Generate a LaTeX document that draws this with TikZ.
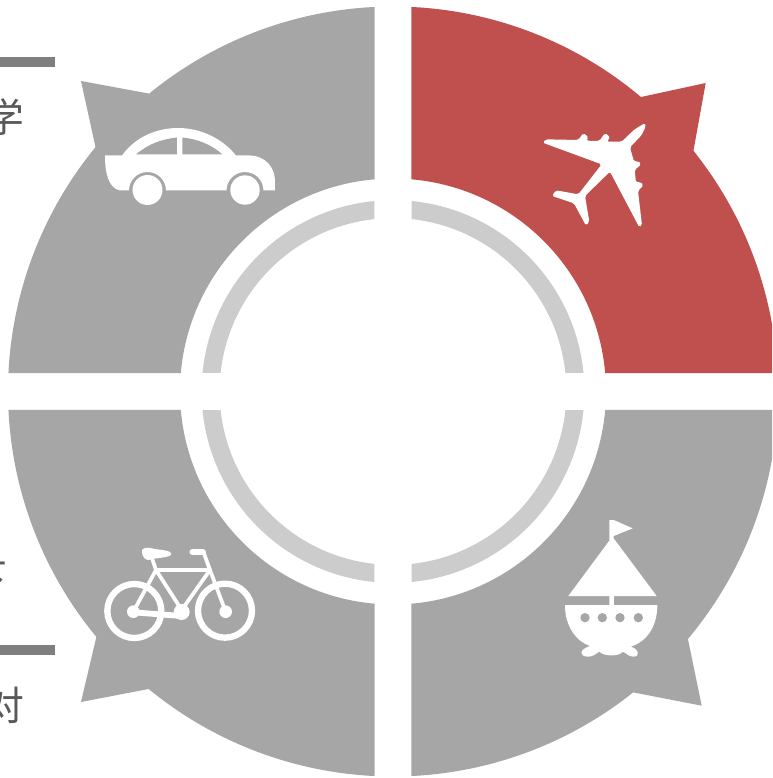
\documentclass[tikz,border=0pt]{standalone}
\usepackage{fontspec}
\newfontfamily\cjkfont{Noto Sans CJK SC}
\usetikzlibrary{positioning}
\definecolor{quadgray}{HTML}{A6A6A6}
\definecolor{quadred}{HTML}{C0504D}
\definecolor{ringgray}{HTML}{CCCCCC}
\definecolor{rulegray}{HTML}{7F7F7F}
\definecolor{textgray}{HTML}{595959}
\tikzset{
  quadrant/.style={draw=none},
  ringpart/.style={fill=ringgray},
  rulebar/.style={fill=rulegray},
  sidetext/.style={text=textgray,inner sep=0pt,font=\cjkfont\fontsize{34}{34}\selectfont},
  iconfill/.style={fill=white},
  iconhole/.style={fill=quadgray},
  bikeline/.style={draw=white,line width=3.2pt,line cap=round,line join=round},
}
\begin{document}
\begin{tikzpicture}[x=.03cm,y=.03cm]
    \useasboundingbox (-393,-386.5) rectangle (379,391.5);
    \clip (-393,-386.5) rectangle (379,391.5);
    % four sectors, each with its spike
    \foreach \col/\base/\sa/\tx/\ty/\sb in {quadred/0/38.7/312.7/308.5/49.9,quadgray/90/129.3/-312/310.5/140.6,quadgray/180/219.6/-312/-310.5/230.6,quadgray/270/308.6/308.7/-314.2/320}{
      \fill[quadrant,fill=\col] ({\base+2.75}:385) arc[start angle=\base+2.75,end angle=\sa,radius=385]
        -- (\tx,\ty) -- (\sb:385) arc[start angle=\sb,end angle=\base+87.25,radius=385]
        -- ({\base+85.02}:213) arc[start angle=\base+85.02,end angle=\base+4.98,radius=213] -- cycle;
      \fill[ringpart] ({\base+5.55}:191.4) arc[start angle=\base+5.55,end angle=\base+84.45,radius=191.4]
        -- ({\base+83.87}:173.4) arc[start angle=\base+83.87,end angle=\base+6.13,radius=173.4] -- cycle;
    }
    \begin{scope}[shift={(-393,391.5)},yscale=-1]
      % side rules and cut-off text
      \fill[rulebar] (-5,57) rectangle (55,67);
      \fill[rulebar] (-5,645) rectangle (55,655);
      \node[sidetext] (topchar) at (4,117) {学};
      \node[sidetext] (midchar) at (-13,579) {下};
      \node[sidetext] (lowchar) at (4,705) {对};
      % car
      \fill[iconfill] (105,155.5) -- (122,155.5) .. controls (136,136) and (158,128) .. (178,128)
        .. controls (200,128) and (222,138) .. (236,155.5) -- (250,155.5)
        .. controls (266,156) and (275,168) .. (275,181) -- (275,190.5) -- (263.5,190.5)
        arc[start angle=0,end angle=-180,radius=18.5] -- (166,190.5)
        arc[start angle=0,end angle=-180,radius=18.5] -- (120,190.5)
        .. controls (108,188) and (105,172) .. cycle;
      \fill[iconhole] (136,154.5) .. controls (148,144) and (162,139) .. (177,137.5) -- (177,154.5) -- cycle;
      \fill[iconhole] (182.5,137.5) .. controls (198,139) and (212,145) .. (222.5,154.5) -- (182.5,154.5) -- cycle;
      \fill[iconfill] (147.5,190) circle[radius=15];
      \fill[iconfill] (245,190) circle[radius=14.7];
      % plane
      \begin{scope}[shift={(500,60)},scale=1/3]
        \fill[iconfill,rounded corners=1.5pt] (436,189) -- (437,200) -- (425,225) -- (390,262) -- (402,305)
          -- (414,303) -- (424,313) -- (404,330) -- (408,368) -- (420,365) -- (431,376) -- (414,392)
          -- (426,496) -- (418,502) -- (330,335) -- (255,408) -- (268,485) -- (258,497) -- (222,430)
          -- (156,408) -- (168,391) -- (235,403) -- (305,313) -- (128,248) -- (138,238) -- (235,240)
          -- (250,219) -- (266,232) -- (258,242) -- (298,243) -- (315,219) -- (331,232) -- (320,245) -- (365,245)
          -- (405,207) -- cycle;
      \end{scope}
      % bicycle
      \begin{scope}[shift={(0,520)},scale=1/3]
        \draw[bikeline,line width=5.4pt] (403,273) circle[radius=81];
        \draw[bikeline,line width=5.4pt] (675,272) circle[radius=81];
        \fill[iconfill] (400,275) circle[radius=19];
        \fill[iconfill] (677,275) circle[radius=19];
        \fill[iconfill] (545,276) circle[radius=24];
        \draw[bikeline] (400,275) -- (468,150) -- (630,150) -- (545,270) -- (468,150) -- (455,112);
        \draw[bikeline] (677,275) -- (630,150) -- (610,95);
        \draw[bikeline,line width=5pt] (400,277) -- (545,288);
        \draw[bikeline,line width=5.5pt] (578,96) -- (608,96);
        \fill[iconfill] (426,98) .. controls (424,78) and (445,82) .. (470,88)
          .. controls (490,90) and (514,92) .. (514,102) .. controls (512,114) and (470,112) .. (445,120)
          .. controls (435,120) and (428,110) .. cycle;
      \end{scope}
      % boat
      \begin{scope}[shift={(540,510)},scale=1/3]
        \fill[iconfill] (208,30) -- (221,30) -- (278,55) -- (221,78) -- (221,85) -- (350,258) -- (222,258)
          -- (222,285) -- (352,285) .. controls (352,350) and (320,395) .. (272,410)
          .. controls (296,416) and (302,440) .. (280,440) .. controls (265,440) and (258,428) .. (248,425)
          .. controls (240,440) and (190,440) .. (178,425) .. controls (168,430) and (160,440) .. (145,440)
          .. controls (115,440) and (118,418) .. (150,408) .. controls (110,395) and (75,350) .. (75,285)
          -- (208,285) -- (208,258) -- (85,258) -- (208,92) -- cycle;
        \foreach \px in {135,187,240,295}{
          \fill[iconhole] (\px,323) circle[radius=14];
        }
      \end{scope}
    \end{scope}
  \end{tikzpicture}
\end{document}
